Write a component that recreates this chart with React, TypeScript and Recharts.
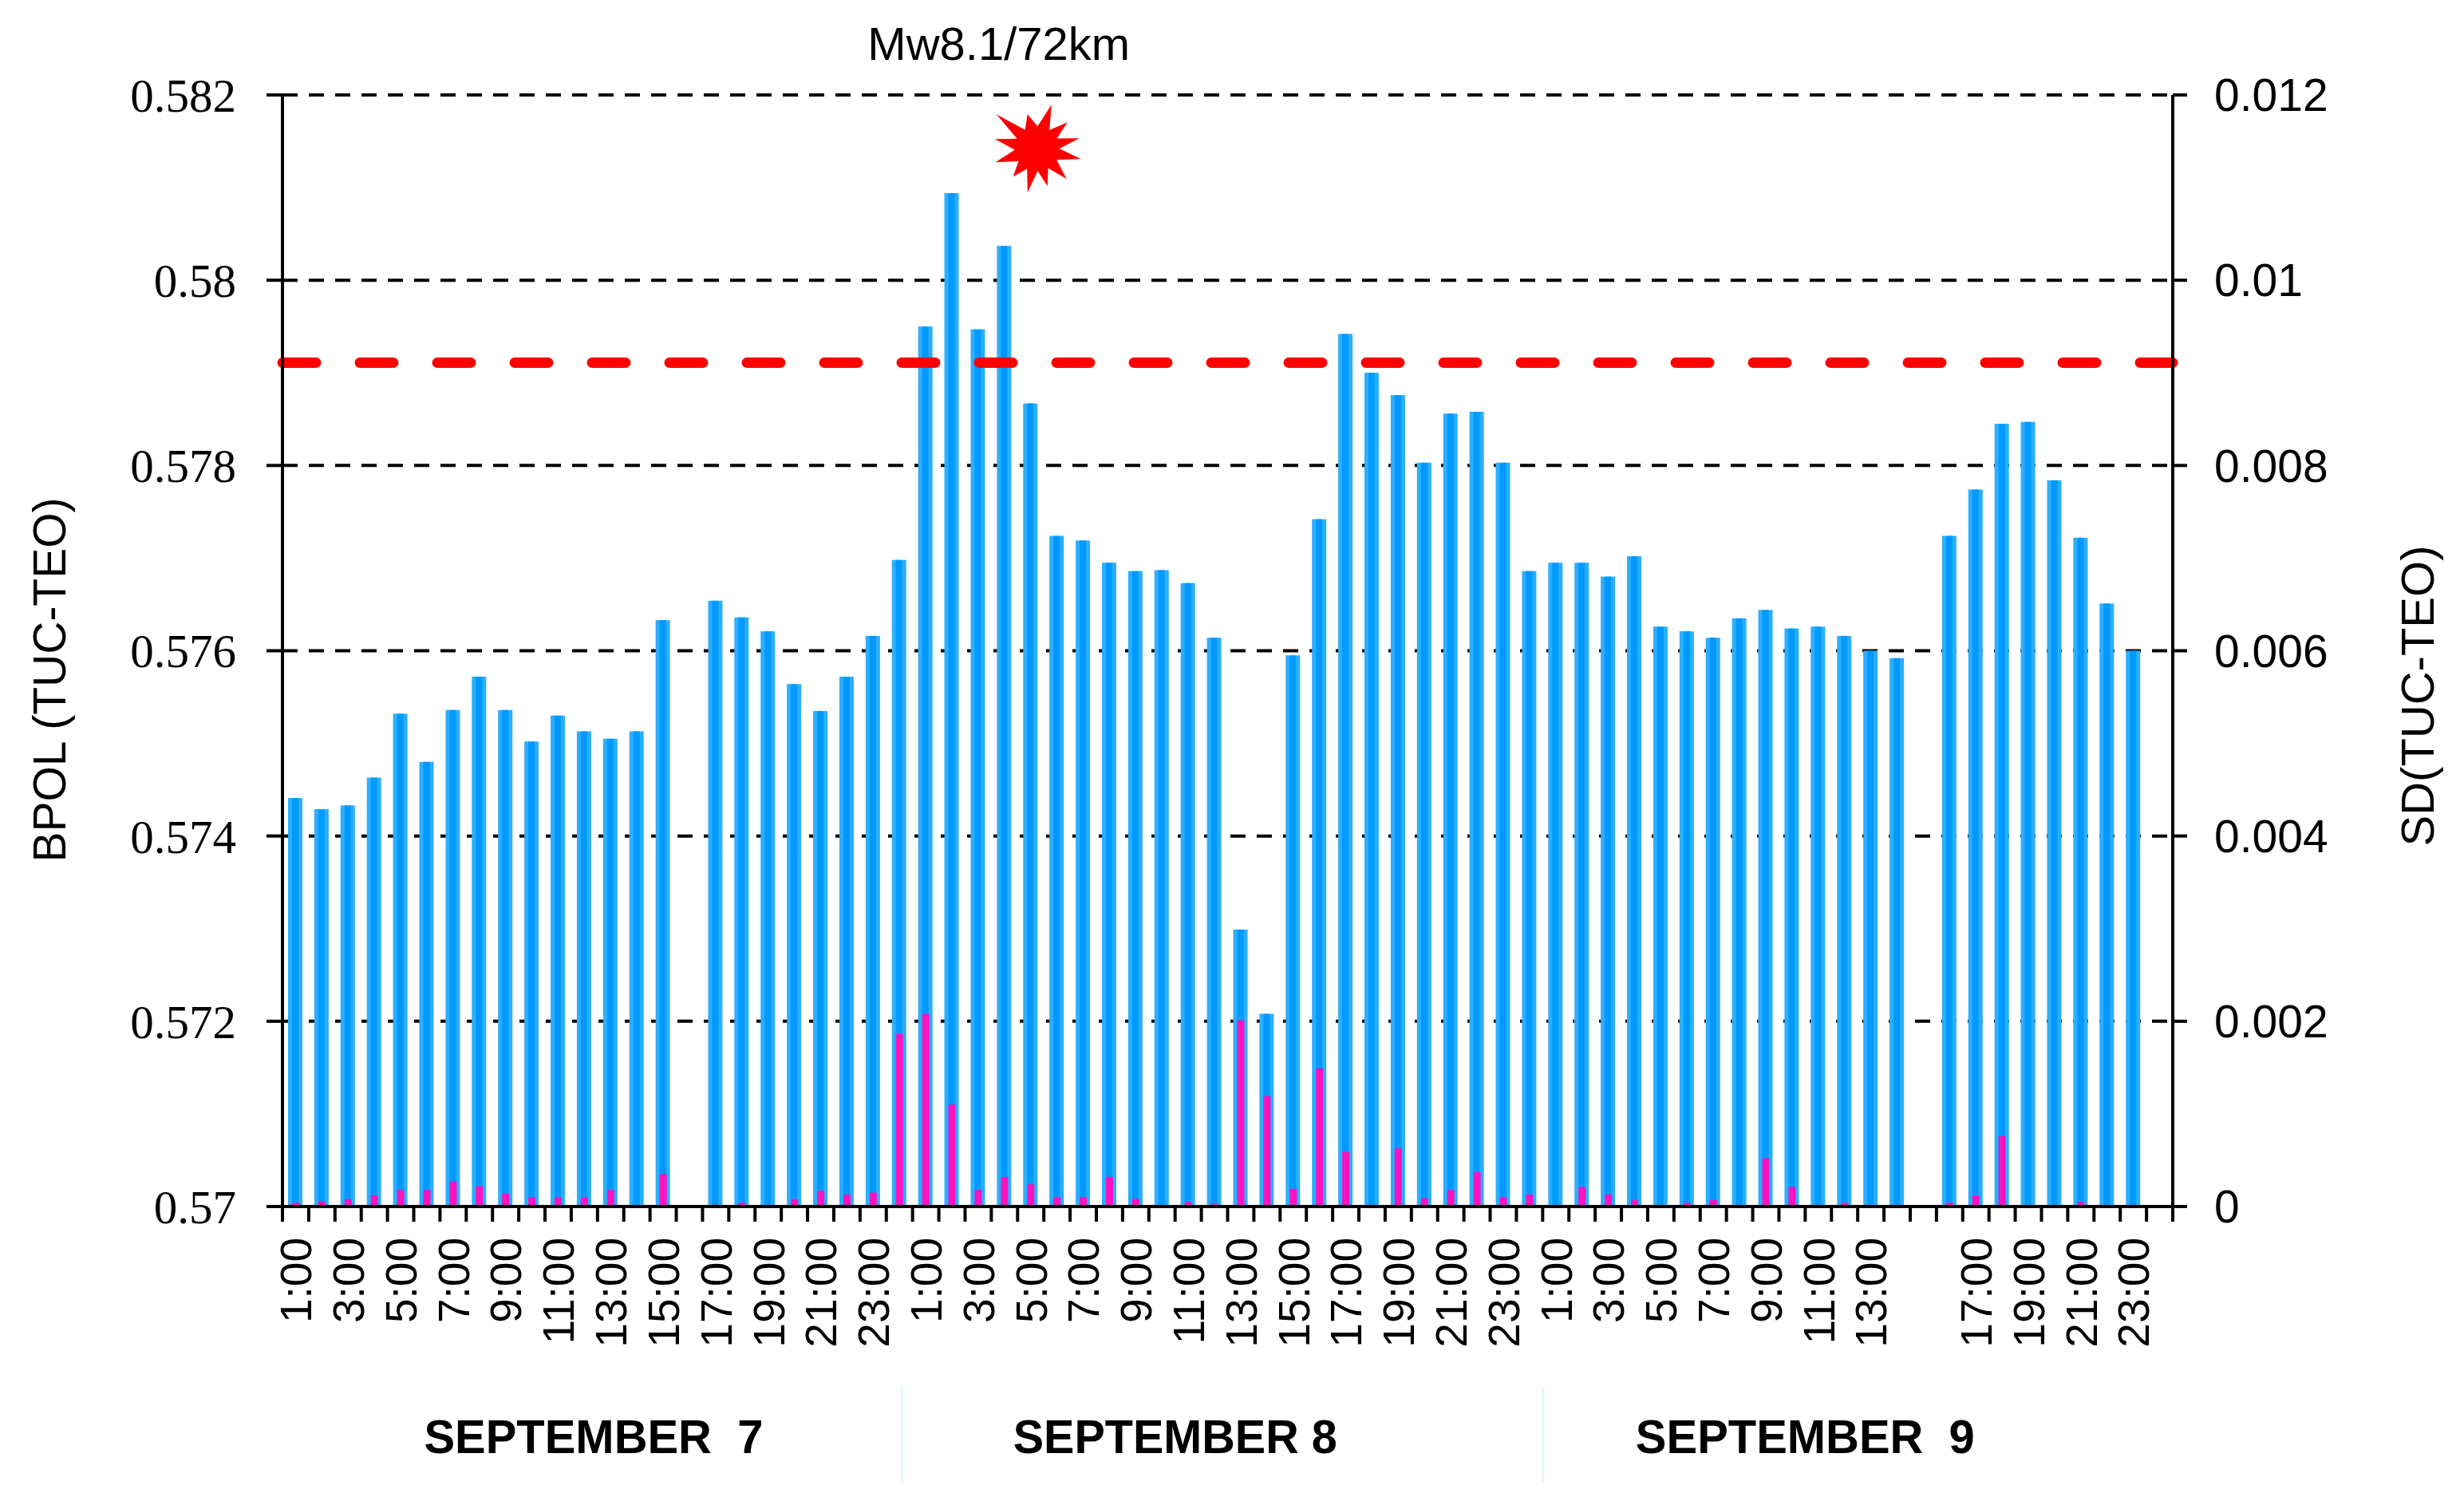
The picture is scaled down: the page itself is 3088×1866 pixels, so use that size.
import React from 'react';
import {
  BarChart,
  Bar,
  XAxis,
  YAxis,
  CartesianGrid,
  ReferenceLine,
  ReferenceDot,
  Customized,
} from 'recharts';

// ---- data ----
const days = ['7', '8', '9'];
const dayTitles = ['SEPTEMBER  7', 'SEPTEMBER 8', 'SEPTEMBER  9'];
const hours = [
  '1:00', '2:00', '3:00', '4:00', '5:00', '6:00', '7:00', '8:00', '9:00', '10:00', '11:00', '12:00',
  '13:00', '14:00', '15:00', '16:00', '17:00', '18:00', '19:00', '20:00', '21:00', '22:00', '23:00', '24:00',
];

// labels printed under the axis (empty = no label)
const ticksSep7 = ['1:00', '', '3:00', '', '5:00', '', '7:00', '', '9:00', '', '11:00', '', '13:00', '', '15:00', '', '17:00', '', '19:00', '', '21:00', '', '23:00', ''];
const ticksSep8 = ['1:00', '', '3:00', '', '5:00', '', '7:00', '', '9:00', '', '11:00', '', '13:00', '', '15:00', '', '17:00', '', '19:00', '', '21:00', '', '23:00', ''];
const ticksSep9 = ['1:00', '', '3:00', '', '5:00', '', '7:00', '', '9:00', '', '11:00', '', '13:00', '', '', '', '17:00', '', '19:00', '', '21:00', '', '23:00', ''];

// BPOL (TUC-TEO), left axis
const bpolSep7 = [0.57441, 0.57429, 0.57433, 0.57463, 0.57532, 0.5748, 0.57536, 0.57572, 0.57536, 0.57502, 0.5753, 0.57513, 0.57505, 0.57513, 0.57633, null, 0.57654, 0.57636, 0.57621, 0.57564, 0.57535, 0.57572, 0.57616, 0.57698];
const bpolSep8 = [0.5795, 0.58094, 0.57947, 0.58037, 0.57867, 0.57724, 0.57719, 0.57695, 0.57686, 0.57687, 0.57673, 0.57614, 0.57299, 0.57208, 0.57595, 0.57742, 0.57942, 0.579, 0.57876, 0.57803, 0.57856, 0.57858, 0.57803, 0.57686];
const bpolSep9 = [0.57695, 0.57695, 0.5768, 0.57702, 0.57626, 0.57621, 0.57614, 0.57635, 0.57644, 0.57624, 0.57626, 0.57616, 0.576, 0.57592, null, 0.57724, 0.57774, 0.57845, 0.57847, 0.57784, 0.57722, 0.57651, 0.576, null];

// SD (TUC-TEO), right axis
const sdSep7 = [0.00004, 0.00006, 0.00008, 0.00012, 0.00018, 0.00018, 0.00027, 0.00022, 0.00014, 0.0001, 0.0001, 0.0001, 0.00018, 0, 0.00035, null, 0.00002, 0.00004, 0, 0.00008, 0.00017, 0.00013, 0.00015, 0.00186];
const sdSep8 = [0.00208, 0.0011, 0.00018, 0.00032, 0.00024, 0.0001, 0.0001, 0.00032, 0.00008, 0, 0.00005, 0.00003, 0.00201, 0.00119, 0.00019, 0.00149, 0.00059, 0, 0.00063, 0.00009, 0.00018, 0.00037, 0.0001, 0.00013];
const sdSep9 = [0, 0.00021, 0.00013, 0.00007, 0, 0.00004, 0.00007, 0, 0.00052, 0.00021, 0, 0.00004, 0, 0, null, 0.00004, 0.00012, 0.00076, 0, 0, 0.00005, 0, 0, null];

const threshold = 0.57911;
const quakeAt = '8-5:00';
const quakeLevel = 0.58142;
const quakeText = 'Mw8.1/72km';

const leftTicks = [0.57, 0.572, 0.574, 0.576, 0.578, 0.58, 0.582];
const leftTickLabels = ['0.57', '0.572', '0.574', '0.576', '0.578', '0.58', '0.582'];
const rightTicks = [0, 0.002, 0.004, 0.006, 0.008, 0.01, 0.012];
const rightTickLabels = ['0', '0.002', '0.004', '0.006', '0.008', '0.01', '0.012'];

// ---- table for recharts ----
const categories = days.flatMap((d) => hours.map((h) => `${d}-${h}`));
const tickLabels = [...ticksSep7, ...ticksSep8, ...ticksSep9];
const bpol = [...bpolSep7, ...bpolSep8, ...bpolSep9];
const sd = [...sdSep7, ...sdSep8, ...sdSep9];
const rows = categories.map((key, i) => ({ key, bpol: bpol[i], sd: sd[i] }));

// ---- layout ----
const W = 3072;
const H = 1850;
const PLOT_LEFT = 346;
const PLOT_RIGHT = 2715;
const PLOT_TOP = 111;
const PLOT_BOTTOM = 1504;
const X_AXIS_H = 200;
const BAND = (PLOT_RIGHT - PLOT_LEFT) / categories.length;
const SANS = '"Liberation Sans", Arial, sans-serif';
const SERIF = '"Liberation Serif", "Times New Roman", serif';

// where the day titles / separators sit, in category slots
const daySlots = [11.85, 34, 58];
const separatorSlots = [23.6, 48];

const XTick = (props: any) => {
  const { x, index } = props;
  const left = x - BAND / 2;
  const label = tickLabels[index];
  return (
    <g>
      <line x1={left} x2={left} y1={PLOT_BOTTOM} y2={PLOT_BOTTOM + 19} stroke="#000" strokeWidth={4} />
      {index === categories.length - 1 && (
        <line x1={x + BAND / 2} x2={x + BAND / 2} y1={PLOT_BOTTOM} y2={PLOT_BOTTOM + 19} stroke="#000" strokeWidth={4} />
      )}
      {label && (
        <text
          transform={`translate(${x},${PLOT_BOTTOM + 39}) rotate(-90)`}
          textAnchor="end"
          dy="0.36em"
          fontSize={55}
          fontFamily={SANS}
          fill="#000"
        >
          {label}
        </text>
      )}
    </g>
  );
};

const BlueBar = (props: any) => {
  const { x, y, width, height } = props;
  if (!height || height <= 0) return null;
  return (
    <g>
      <rect x={x} y={y} width={width} height={height} fill="#2BAEFF" />
      <rect x={x + 5} y={y} width={Math.max(width - 10, 0)} height={height} fill="#0099FF" />
    </g>
  );
};

// irregular 12-point burst
const burstTips = [
  [18, -55], [38, -33], [53, -13], [55, 13], [37, 38], [13, 47],
  [-12, 55], [-30, 35], [-52, 17], [-53, -12], [-51, -43], [-12, -43],
];
const burstPoints = (() => {
  const pts: string[] = [];
  burstTips.forEach(([tx, ty], i) => {
    const [nx, ny] = burstTips[(i + 1) % burstTips.length];
    pts.push(`${tx},${ty}`);
    let a1 = Math.atan2(ty, tx);
    let a2 = Math.atan2(ny, nx);
    if (a2 < a1) a2 += Math.PI * 2;
    const am = (a1 + a2) / 2;
    pts.push(`${(Math.cos(am) * 28).toFixed(1)},${(Math.sin(am) * 28).toFixed(1)}`);
  });
  return pts.join(' ');
})();

const Quake = (props: any) => {
  const { cx, cy } = props;
  return (
    <g>
      <polygon points={burstPoints} transform={`translate(${cx + 8},${cy})`} fill="#FF0000" />
      <text x={cx - 40} y={cy - 111} textAnchor="middle" fontSize={58} fontFamily={SANS} fill="#000">
        {quakeText}
      </text>
    </g>
  );
};

const Overlay = () => (
  <g>
    <text
      transform={`translate(74,844) rotate(-90)`}
      textAnchor="middle"
      fontSize={57}
      fontFamily={SANS}
      fill="#000"
    >
      BPOL (TUC-TEO)
    </text>
    <text
      transform={`translate(3042,864) rotate(-90)`}
      textAnchor="middle"
      fontSize={58}
      fontFamily={SANS}
      fill="#000"
    >
      SD(TUC-TEO)
    </text>
    {separatorSlots.map((s, i) => (
      <line
        key={`sep-${i}`}
        x1={PLOT_LEFT + BAND * s}
        x2={PLOT_LEFT + BAND * s}
        y1={1730}
        y2={H}
        stroke="#E2F8FF"
        strokeWidth={3}
      />
    ))}
    {dayTitles.map((t, i) => (
      <text
        key={`day-${i}`}
        x={PLOT_LEFT + BAND * daySlots[i]}
        y={1813}
        textAnchor="middle"
        fontSize={60}
        fontWeight="bold"
        fontFamily={SANS}
        fill="#000"
        textLength={i === 1 ? 406 : 425}
        lengthAdjust="spacingAndGlyphs"
        style={{ whiteSpace: 'pre' }}
      >
        {t}
      </text>
    ))}
  </g>
);

export default function App() {
  return (
    <div style={{ width: W, height: H, background: '#fff' }}>
      <BarChart
        width={W}
        height={H}
        data={rows}
        margin={{ top: PLOT_TOP, right: 0, bottom: H - PLOT_BOTTOM - X_AXIS_H, left: 0 }}
      >
        <CartesianGrid
          xAxisId="main"
          yAxisId="left"
          vertical={false}
          stroke="#000"
          strokeWidth={4}
          strokeDasharray="19 14"
        />
        <XAxis
          xAxisId="main"
          dataKey="key"
          interval={0}
          height={X_AXIS_H}
          tick={<XTick />}
          tickLine={false}
          axisLine={{ stroke: '#000', strokeWidth: 4 }}
        />
        <XAxis xAxisId="overlay" dataKey="key" hide />
        <YAxis
          yAxisId="left"
          width={PLOT_LEFT}
          domain={[0.57, 0.582]}
          ticks={leftTicks}
          interval={0}
          allowDataOverflow
          tickFormatter={(v: number, i: number) => leftTickLabels[i]}
          tickSize={20}
          tickMargin={38}
          tick={{ fill: '#000', fontSize: 59, fontFamily: SERIF }}
          tickLine={{ stroke: '#000', strokeWidth: 4 }}
          axisLine={{ stroke: '#000', strokeWidth: 4 }}
        />
        <YAxis
          yAxisId="right"
          orientation="right"
          width={W - PLOT_RIGHT}
          domain={[0, 0.012]}
          ticks={rightTicks}
          interval={0}
          allowDataOverflow
          tickFormatter={(v: number, i: number) => rightTickLabels[i]}
          tickSize={18}
          tickMargin={34}
          tick={{ fill: '#000', fontSize: 57, fontFamily: SANS }}
          tickLine={{ stroke: '#000', strokeWidth: 4 }}
          axisLine={{ stroke: '#000', strokeWidth: 4 }}
        />
        <Bar
          xAxisId="main"
          yAxisId="left"
          dataKey="bpol"
          barSize={18}
          fill="#0099FF"
          shape={<BlueBar />}
          isAnimationActive={false}
        />
        <Bar
          xAxisId="overlay"
          yAxisId="right"
          dataKey="sd"
          barSize={9}
          fill="#FF12C0"
          isAnimationActive={false}
        />
        <ReferenceLine
          xAxisId="main"
          yAxisId="left"
          y={threshold}
          stroke="#FF0000"
          strokeWidth={13}
          strokeDasharray="42 55"
          strokeLinecap="round"
        />
        <ReferenceDot
          xAxisId="main"
          yAxisId="left"
          x={quakeAt}
          y={quakeLevel}
          r={10}
          shape={<Quake />}
        />
        <Customized component={Overlay} />
      </BarChart>
    </div>
  );
}
